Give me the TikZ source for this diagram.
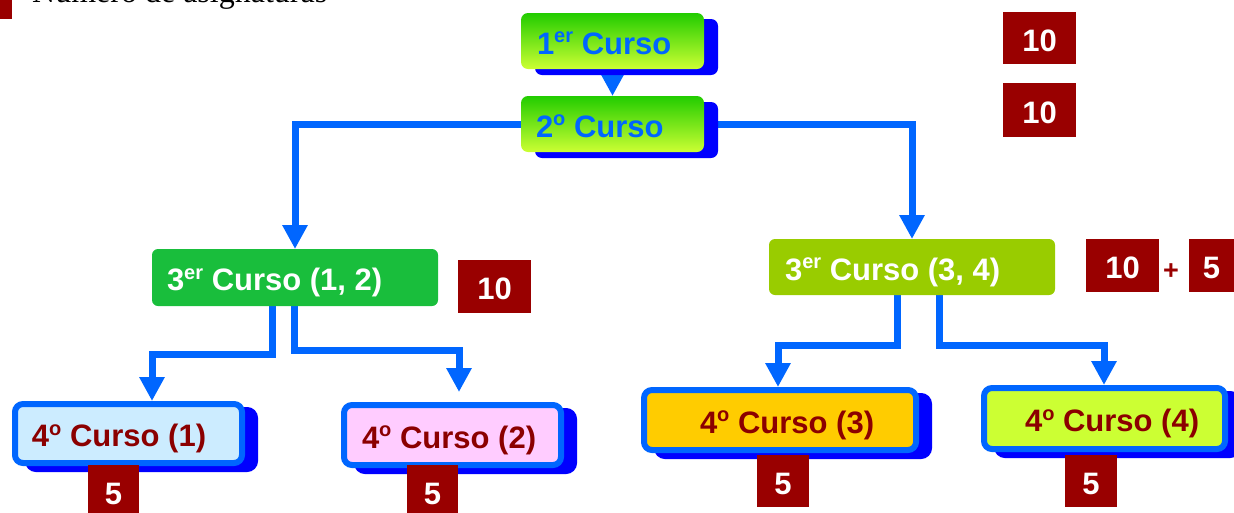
\documentclass[tikz,border=0pt]{standalone}
\usepackage{fontspec}
\setmainfont{Liberation Sans}
\newfontfamily\headserif{Liberation Serif}
\usetikzlibrary{shadows,arrows.meta,backgrounds,calc}
\definecolor{connblue}{HTML}{0066FF}
\definecolor{shadblue}{HTML}{0000FF}
\definecolor{badgered}{HTML}{990000}
\definecolor{textred}{HTML}{8B0000}
\definecolor{gtop}{HTML}{22CC00}
\definecolor{gbot}{HTML}{CCFF33}
\definecolor{greenA}{RGB}{25,190,60}
\definecolor{greenB}{HTML}{99CC00}
\definecolor{lblue}{HTML}{CCECFF}
\definecolor{lpink}{HTML}{FFCCFF}
\definecolor{lorange}{HTML}{FFCC00}
\definecolor{lyellow}{HTML}{CCFF33}
\newcommand\supr[1]{\raisebox{0.36em}{\fontsize{20}{20}\selectfont #1}}
\newcommand\padtext[3]{\makebox[#1pt][l]{\hspace*{#2pt}#3}}
\begin{document}
\begin{tikzpicture}[x=1pt,y=-1pt,
 base/.style={inner sep=0pt, outer sep=0pt, text height=30pt, text depth=4pt, font=\fontsize{31}{36}\selectfont\bfseries},
 topbox/.style={base, rounded corners=7pt, top color=gtop, bottom color=gbot, text=connblue,
   drop shadow={shadow xshift=14pt, shadow yshift=-6pt, fill=shadblue, opacity=1}},
 midbox/.style={base, rounded corners=6pt, text=white},
 lowbox/.style={base, outer sep=3pt, rounded corners=8pt, draw=connblue, line width=6pt, text=textred,
   drop shadow={shadow xshift=13pt, shadow yshift=-6pt, fill=shadblue, draw=shadblue, line width=6pt, opacity=1}},
 badge/.style={base, fill=badgered, text=white},
 conn/.style={draw=connblue, line width=7pt, -{Triangle[length=24pt,width=24pt]}},
]
\useasboundingbox (0,0) rectangle (1234,512);
\clip (0,0) rectangle (1234,512);
% header
\node[fill=badgered, inner sep=0pt, minimum width=12pt, minimum height=19pt, anchor=north west] (bullet) at (0,0) {};
\node[anchor=base west, inner sep=0pt, font=\headserif\fontsize{32}{32}\selectfont] (title) at (32,2) {Número de asignaturas};
% top boxes
\node[topbox, minimum width=183pt, minimum height=56pt] (n1) at (612.5,41) {\padtext{183}{16}{1\supr{er} Curso}};
\node[topbox, minimum width=183pt, minimum height=56pt] (n2) at (612.5,124) {\padtext{183}{15}{2\supr{o} Curso}};
% third year
\node[midbox, fill=greenA, minimum width=286pt, minimum height=57pt] (n3a) at (295,277.5) {\padtext{286}{15}{3\supr{er} Curso (1, 2)}};
\node[midbox, fill=greenB, minimum width=286pt, minimum height=56pt] (n3b) at (912,267) {\padtext{286}{16}{3\supr{er} Curso (3, 4)}};
% fourth year
\node[lowbox, fill=lblue, minimum width=227pt, minimum height=59pt] (n41) at (128.5,433.5) {\padtext{227}{17}{4\supr{o} Curso (1)}};
\node[lowbox, fill=lpink, minimum width=217pt, minimum height=60pt] (n42) at (452.5,435) {\padtext{217}{18}{4\supr{o} Curso (2)}};
\node[lowbox, fill=lorange, minimum width=272pt, minimum height=60pt] (n43) at (780,420) {\padtext{272}{56}{4\supr{o} Curso (3)}};
\node[lowbox, fill=lyellow, minimum width=241pt, minimum height=61pt] (n44) at (1104.5,418.5) {\padtext{241}{41}{4\supr{o} Curso (4)}};
% badges
\node[badge, minimum width=73pt, minimum height=52pt] (b1) at (1039.5,38) {10};
\node[badge, minimum width=73pt, minimum height=54pt] (b2) at (1039.5,110) {10};
\node[badge, minimum width=73pt, minimum height=53pt] (b3) at (494.5,286.5) {10};
\node[badge, minimum width=73pt, minimum height=53pt] (b4) at (1122.5,265.5) {10};
\node[base, text=badgered, font=\fontsize{27}{27}\selectfont\bfseries] (plus) at (1171,266) {+};
\node[badge, minimum width=45pt, minimum height=53pt] (b5) at (1211.5,265.5) {5};
\node[badge, minimum width=51pt, minimum height=53pt] (b6) at (113.5,491.5) {5};
\node[badge, minimum width=51pt, minimum height=53pt] (b7) at (432.5,491.5) {5};
\node[badge, minimum width=52pt, minimum height=52pt] (b8) at (783,481) {5};
\node[badge, minimum width=52pt, minimum height=52pt] (b9) at (1091,481) {5};
% connectors
\begin{scope}[on background layer]
\draw[conn] (n1.south) -- (n2.north);
\draw[conn] (n2.west) -| (n3a.north);
\draw[conn] (n2.east) -| (n3b.north);
\draw[conn] ([xshift=-23pt]n3a.south) -- ++(0,48) -| ([xshift=23.5pt]n41.north);
\draw[conn, shorten >=10pt] ([xshift=-1pt]n3a.south) -- ++(0,44) -| ([xshift=6.5pt]n42.north);
\draw[conn] ([xshift=-15pt]n3b.south) -- ++(0,50) -| ([xshift=-2pt]n43.north);
\draw[conn] ([xshift=27pt]n3b.south) -- ++(0,50) -| ([xshift=-0.5pt]n44.north);
\end{scope}
\end{tikzpicture}
\end{document}
